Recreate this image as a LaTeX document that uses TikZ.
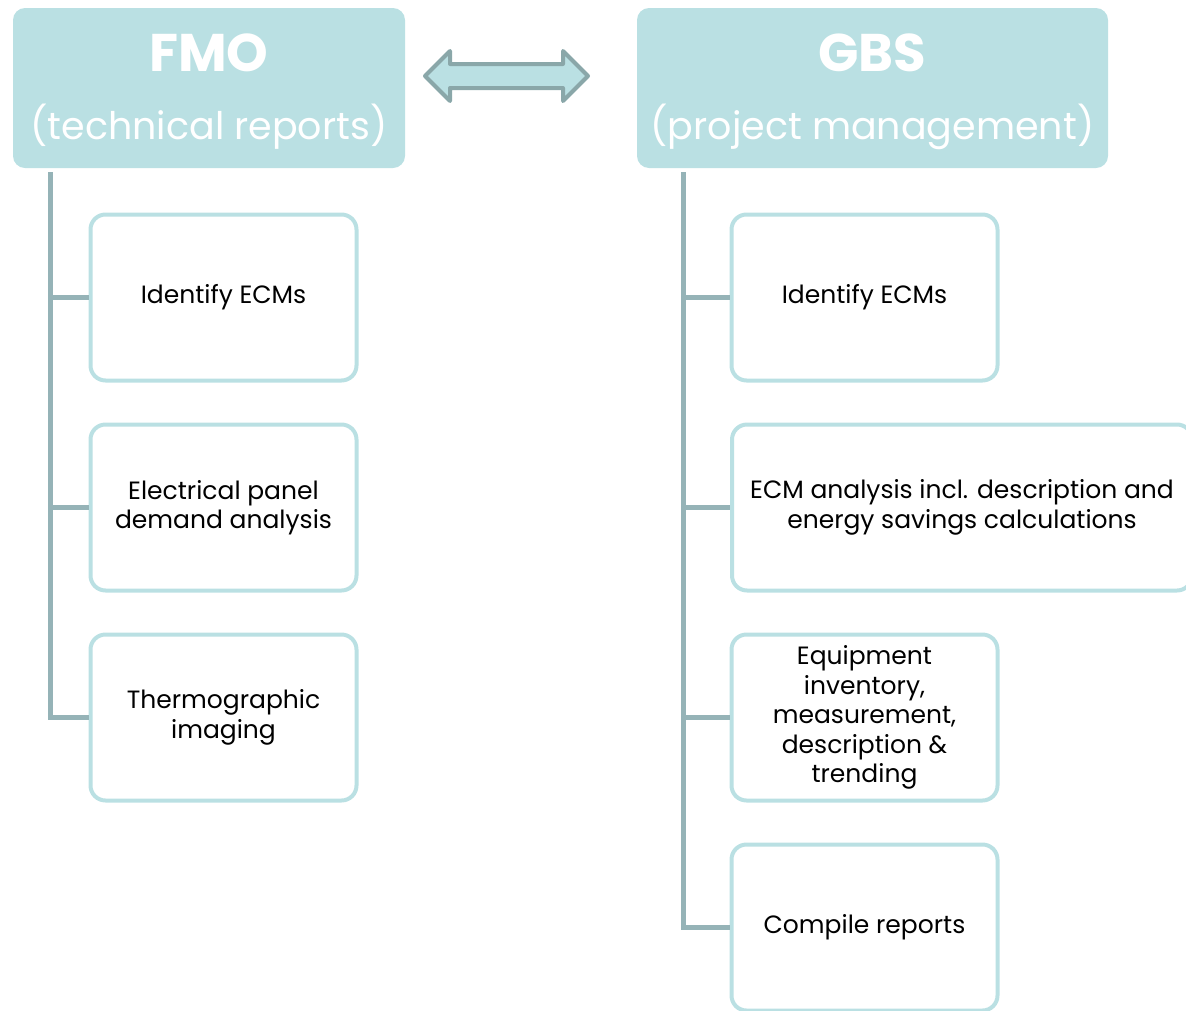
\documentclass[tikz,border=0pt]{standalone}
\usepackage{fontspec}
\setmainfont{Poppins}
\definecolor{hdr}{HTML}{BAE0E3}
\definecolor{conn}{HTML}{95B3B7}
\definecolor{arrb}{HTML}{8AA7A9}
\begin{document}
\begin{tikzpicture}[x=1pt,y=-1pt,
  header/.style={fill=hdr,rounded corners=12pt,inner sep=0pt},
  ttl/.style={text=white,font=\fontsize{53}{60}\selectfont\bfseries,inner sep=0pt},
  sub/.style={text=white,font=\fontsize{38}{46}\selectfont,inner sep=0pt},
  task/.style={draw=hdr,line width=4pt,rounded corners=15pt,fill=white,
    minimum width=266pt,minimum height=166pt,inner sep=4pt,align=center,
    font=\fontsize{25}{29.5}\selectfont,text=black},
  link/.style={draw=conn,line width=5pt,line join=miter}]
\useasboundingbox (0,0) rectangle (1186,1010);
% headers
\node[header,minimum width=392pt,minimum height=160pt] (fmo) at (209,88) {};
\node[ttl] (fmot) at (209,53) {FMO};
\node[sub] (fmos) at (209,127) {(technical reports)};
\node[header,minimum width=471pt,minimum height=160pt] (gbs) at (872.5,88) {};
\node[ttl] (gbst) at (872.5,53) {GBS};
\node[sub] (gbss) at (872.5,127) {(project management)};
% double arrow
\coordinate (al) at (425,76);
\coordinate (ar) at (588,76);
\draw[arrb,fill=hdr,line width=4pt,line join=round]
  (al) -- (450,51) -- (450,64) -- (563,64) -- (563,51) -- (ar)
  -- (563,101) -- (563,88) -- (450,88) -- (450,101) -- cycle;
% left tasks
\node[task] (f1) at (223.5,297.5) {\strut Identify ECMs};
\node[task] (f2) at (223.5,507.5) {Electrical panel\\demand analysis};
\node[task] (f3) at (223.5,717.5) {Thermographic\\imaging};
% right tasks
\node[task] (g1) at (864.5,297.5) {\strut Identify ECMs};
\node[task,minimum width=460pt] (g2) at (962,507.5) {ECM analysis incl. description and\\energy savings calculations};
\node[task] (g3) at (864.5,717.5) {Equipment\\inventory,\\measurement,\\description \&\\trending};
\node[task] (g4) at (864.5,927.5) {\strut Compile reports};
% connectors
\coordinate (fl) at (50,172);
\coordinate (gl) at (683,172);
\draw[link] (fl) |- (f3.west);
\draw[link] (fl |- f1.west) -- (f1.west);
\draw[link] (fl |- f2.west) -- (f2.west);
\draw[link] (gl) |- (g4.west);
\draw[link] (gl |- g1.west) -- (g1.west);
\draw[link] (gl |- g2.west) -- (g2.west);
\draw[link] (gl |- g3.west) -- (g3.west);
\end{tikzpicture}
\end{document}
